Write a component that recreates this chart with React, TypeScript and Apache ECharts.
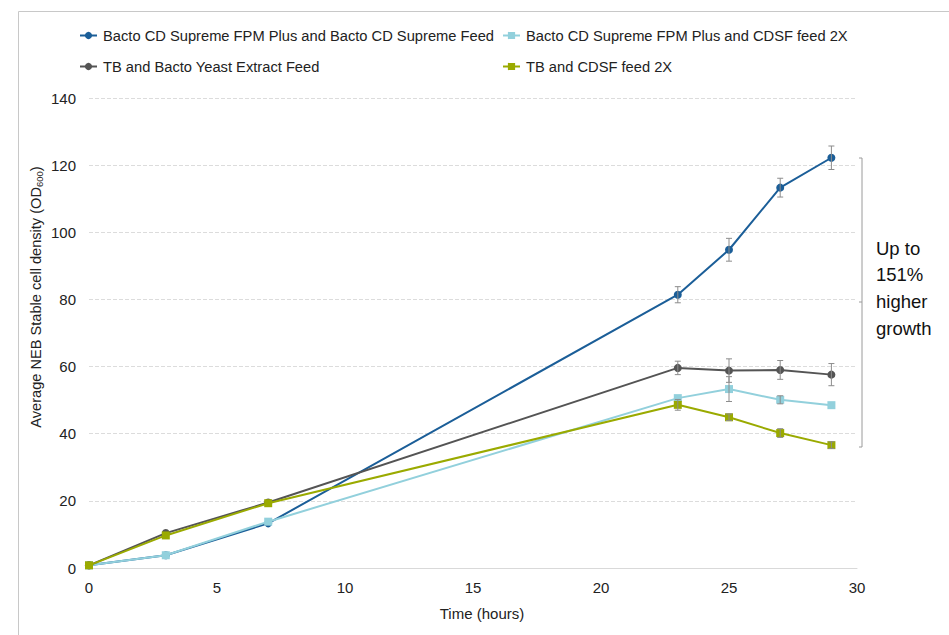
import React, { useEffect, useRef } from "react";
import * as echarts from "echarts";

const times = [0, 3, 7, 23, 25, 27, 29];

const seriesNames = [
  "Bacto CD Supreme FPM Plus and Bacto CD Supreme Feed",
  "Bacto CD Supreme FPM Plus and CDSF feed 2X",
  "TB and Bacto Yeast Extract Feed",
  "TB and CDSF feed 2X",
];

const bactoFeed = [0.8, 3.8, 13.3, 81.4, 94.8, 113.3, 122.2];
const bactoCdsf = [0.8, 3.8, 13.8, 50.6, 53.3, 50.1, 48.5];
const tbYeast = [0.8, 10.4, 19.5, 59.6, 58.8, 59.0, 57.6];
const tbCdsf = [0.8, 9.7, 19.3, 48.6, 44.9, 40.2, 36.6];

const bactoFeedErr = [0, 0, 0, 2.4, 3.4, 2.8, 3.5];
const bactoCdsfErr = [0, 0, 0, 0, 3.7, 1.2, 0];
const tbYeastErr = [0, 0, 0, 2.0, 3.5, 2.8, 3.3];
const tbCdsfErr = [0, 0, 0, 1.6, 1.0, 1.3, 1.0];

const colors = ["#1b5e98", "#92d0dc", "#545454", "#9aaa00"];
const symbols = ["circle", "rect", "circle", "rect"];

const annotationLines = ["Up to", "151%", "higher", "growth"];
const xAxisTitle = "Time (hours)";

const FONT = "Liberation Sans, Arial, sans-serif";

export default function App() {
  const ref = useRef<HTMLDivElement>(null);
  useEffect(() => {
    if (!ref.current) return;
    const chart = echarts.init(ref.current, undefined, { renderer: "svg" });
    const values = [bactoFeed, bactoCdsf, tbYeast, tbCdsf];
    const errs = [bactoFeedErr, bactoCdsfErr, tbYeastErr, tbCdsfErr];

    const lineSeries = values.map((vals, i) => ({
      name: seriesNames[i],
      type: "line",
      data: times.map((t, k) => [t, vals[k]]),
      symbol: symbols[i],
      symbolSize: 8,
      showSymbol: true,
      lineStyle: { color: colors[i], width: 2 },
      itemStyle: { color: colors[i] },
      z: 3 + i,
    }));

    const errData: number[][] = [];
    values.forEach((vals, i) => {
      times.forEach((t, k) => {
        if (errs[i][k] > 0) errData.push([t, vals[k] - errs[i][k], vals[k] + errs[i][k]]);
      });
    });

    const errSeries = {
      type: "custom",
      name: "err",
      data: errData,
      z: 10,
      renderItem: (params: any, api: any) => {
        const x = api.value(0);
        const p1 = api.coord([x, api.value(1)]);
        const p2 = api.coord([x, api.value(2)]);
        const w = 3;
        const st = { stroke: "#8c8c8c", lineWidth: 1 };
        return {
          type: "group",
          children: [
            { type: "line", shape: { x1: p1[0], y1: p1[1], x2: p2[0], y2: p2[1] }, style: st },
            { type: "line", shape: { x1: p1[0] - w, y1: p1[1], x2: p1[0] + w, y2: p1[1] }, style: st },
            { type: "line", shape: { x1: p2[0] - w, y1: p2[1], x2: p2[0] + w, y2: p2[1] }, style: st },
          ],
        };
      },
    };

    const legendCommon = {
      orient: "vertical",
      itemGap: 16,
      itemWidth: 17,
      itemHeight: 9,
      textStyle: { fontFamily: FONT, fontSize: 14.7, color: "#222", padding: [0, 0, 0, 1] },
      padding: 0,
    };

    chart.setOption({
      animation: false,
      backgroundColor: "#fff",
      textStyle: { fontFamily: FONT },
      grid: { left: 89, right: 92, top: 98, bottom: 67 },
      legend: [
        { ...legendCommon, left: 79, top: 28, data: [seriesNames[0], seriesNames[2]] },
        { ...legendCommon, left: 502, top: 28, data: [seriesNames[1], seriesNames[3]] },
      ],
      xAxis: {
        type: "value",
        min: 0,
        max: 30,
        interval: 5,
        axisLine: { show: true, lineStyle: { color: "#d9d9d9", width: 1 } },
        axisTick: { show: false },
        axisLabel: { fontFamily: FONT, fontSize: 15, color: "#222", margin: 12 },
        splitLine: { show: false },
      },
      yAxis: {
        type: "value",
        min: 0,
        max: 140,
        interval: 20,
        axisLine: { show: false },
        axisTick: { show: false },
        axisLabel: { fontFamily: FONT, fontSize: 15, color: "#222", margin: 13 },
        splitLine: { show: true, lineStyle: { color: "#dcdcdc", type: "dashed", width: 1 } },
      },
      series: [...lineSeries, errSeries],
      graphic: [
        {
          type: "rect",
          left: 16,
          top: 9,
          shape: { x: 0, y: 0, width: 960, height: 700 },
          style: { fill: "none", stroke: "#c8c8c8", lineWidth: 1 },
          silent: true,
          z: -10,
        },
        {
          type: "text",
          x: 36,
          y: 297,
          rotation: Math.PI / 2,
          style: {
            text: "Average NEB Stable cell density (OD{sub|600})",
            fontFamily: FONT,
            fontSize: 14.6,
            fill: "#222",
            align: "center",
            verticalAlign: "middle",
            rich: {
              sub: { fontFamily: FONT, fontSize: 9.5, fill: "#222", padding: [7, 0, 0, 0] },
            },
          },
          silent: true,
        },
        {
          type: "text",
          x: 482,
          y: 613,
          style: {
            text: xAxisTitle,
            fontFamily: FONT,
            fontSize: 15,
            fill: "#222",
            align: "center",
            verticalAlign: "middle",
          },
          silent: true,
        },
        {
          type: "polyline",
          shape: { points: [[859, 158], [862, 158], [862, 447], [859, 447]] },
          style: { fill: "none", stroke: "#9a9a9a", lineWidth: 1 },
          silent: true,
        },
        {
          type: "line",
          shape: { x1: 862, y1: 302, x2: 859, y2: 302 },
          style: { stroke: "#9a9a9a", lineWidth: 1 },
          silent: true,
        },
        ...annotationLines.map((s, i) => ({
          type: "text",
          x: 876,
          y: 248 + i * 26.7,
          style: { text: s, fontFamily: FONT, fontSize: 18.5, fill: "#111", verticalAlign: "middle" },
          silent: true,
        })),
      ],
    });
    return () => chart.dispose();
  }, []);
  return (
    <div
      ref={ref}
      style={{ position: "fixed", left: 0, top: 0, width: 949, height: 635, background: "#fff" }}
    />
  );
}
